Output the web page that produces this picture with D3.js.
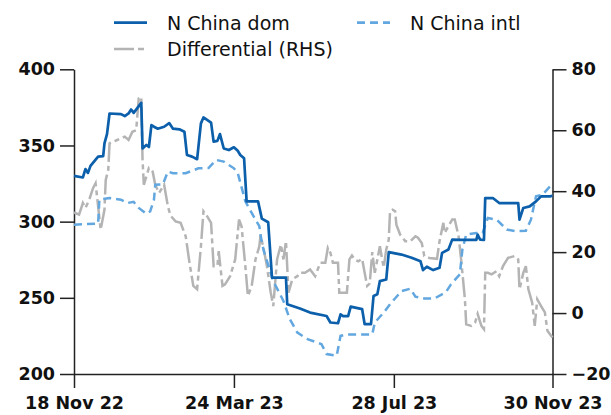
<!DOCTYPE html>
<html>
<head>
<meta charset="utf-8">
<title>N China dom vs intl</title>
<script src="https://cdn.jsdelivr.net/npm/d3@7"></script>
<style>
body { margin: 0; background: #fff; }
svg text { font-family: "DejaVu Sans", sans-serif; fill: #111; }
.axis text { font-weight: bold; font-size: 17.5px; }
.axis path, .axis line { stroke: #222; stroke-width: 1.5; }
</style>
</head>
<body>
<script>

// N China domestic price (LHS)
var chinaDom = [
 ["2022-11-18",330],["2022-11-25",329],["2022-11-27",334.5],["2022-11-29",332],["2022-12-01",336.6],
 ["2022-12-07",342.7],["2022-12-11",343],["2022-12-12",351.4],["2022-12-14",357.5],["2022-12-16",371],
 ["2022-12-25",370.6],["2022-12-28",369.3],["2022-12-31",371],["2023-01-02",373.6],["2023-01-04",371.4],
 ["2023-01-10",378],["2023-01-11",348],["2023-01-14",350.3],["2023-01-16",349],["2023-01-18",363.4],
 ["2023-01-20",362.3],["2023-01-23",361],["2023-01-28",362.3],["2023-02-01",364.7],["2023-02-04",361],
 ["2023-02-09",360.6],["2023-02-13",359],["2023-02-15",343.8],["2023-02-19",342.7],["2023-02-23",341],
 ["2023-02-26",364.5],["2023-02-28",368.4],["2023-03-06",365],["2023-03-08",352.5],["2023-03-11",353],
 ["2023-03-13",357.5],["2023-03-16",348],["2023-03-20",347],["2023-03-24",348.8],["2023-03-27",346.5],
 ["2023-03-29",343.8],["2023-04-01",341.6],["2023-04-03",313.3],["2023-04-12",313.3],["2023-04-15",302],
 ["2023-04-20",299.6],["2023-04-23",263.2],["2023-05-04",263.2],["2023-05-05",245.8],["2023-05-15",243],
 ["2023-05-23",240.3],["2023-06-05",238.1],["2023-06-08",233.8],["2023-06-14",233.3],["2023-06-16",239.2],
 ["2023-06-18",238],["2023-06-22",238],["2023-06-24",244.2],["2023-07-03",242.6],["2023-07-05",232.7],
 ["2023-07-10",232.7],["2023-07-12",251.2],["2023-07-15",252.3],["2023-07-17",261],["2023-07-22",262],
 ["2023-07-24",280],["2023-08-03",278.4],["2023-08-11",276.3],["2023-08-18",274],["2023-08-20",268.2],
 ["2023-08-23",270.4],["2023-08-28",268.2],["2023-09-02",269.7],["2023-09-04",279.5],["2023-09-09",281.7],
 ["2023-09-12",288.2],["2023-09-19",288],["2023-10-01",288],["2023-10-02",291.5],["2023-10-04",288.2],
 ["2023-10-07",288],["2023-10-08",315.5],["2023-10-14",315.5],["2023-10-19",312.2],["2023-11-03",312.2],
 ["2023-11-04",301.3],["2023-11-07",309],["2023-11-12",310],["2023-11-17",313.3],["2023-11-21",316.6],
 ["2023-11-28",316.6],["2023-11-30",317]
];

// N China international price (LHS)
var chinaIntl = [
 ["2022-11-18",298],["2022-12-07",298.7],["2022-12-08",314.4],["2022-12-16",315.5],["2022-12-25",314.4],
 ["2022-12-30",312.2],["2023-01-04",313],["2023-01-08",309],["2023-01-14",305.2],["2023-01-17",306.7],
 ["2023-01-20",314.4],["2023-01-21",324.2],["2023-01-27",324.5],["2023-01-31",332.9],["2023-02-04",331.8],
 ["2023-02-14",331.8],["2023-02-24",335],["2023-03-04",335.2],["2023-03-10",340.5],["2023-03-16",339.4],
 ["2023-03-24",335],["2023-03-27",332],["2023-04-02",313.3],["2023-04-07",305.7],["2023-04-13",297],
 ["2023-04-15",286],["2023-04-17",279.5],["2023-04-24",261],["2023-05-02",248],["2023-05-07",236],
 ["2023-05-13",227.2],["2023-05-21",222.9],["2023-06-01",219.6],["2023-06-05",213.1],["2023-06-13",212],
 ["2023-06-16",225],["2023-06-21",225.9],["2023-07-11",226],["2023-07-13",233.8],["2023-07-20",240.3],
 ["2023-07-26",246.8],["2023-08-03",254.4],["2023-08-10",256],["2023-08-14",250.8],["2023-08-21",249.5],
 ["2023-08-29",249.5],["2023-09-07",253.8],["2023-09-11",258.8],["2023-09-18",265.4],["2023-09-20",281.7],
 ["2023-09-23",291.5],["2023-10-01",292.6],["2023-10-06",292.6],["2023-10-10",302.4],["2023-10-17",301.3],
 ["2023-10-25",294.8],["2023-11-01",293.7],["2023-11-09",294],["2023-11-13",301.3],["2023-11-17",316.6],
 ["2023-11-22",317.6],["2023-11-28",323.1],["2023-11-30",325.7]
];

// Differential (RHS)
var differential = [
 ["2022-11-18",33],["2022-11-22",32.3],["2022-11-25",36.1],["2022-11-27",34.5],["2022-11-30",37.2],
 ["2022-12-03",41],["2022-12-05",42.6],["2022-12-07",35],["2022-12-09",27.4],["2022-12-12",33.9],
 ["2022-12-13",43.7],["2022-12-15",47],["2022-12-16",55.7],["2022-12-22",56.8],["2022-12-28",57.9],
 ["2022-12-31",56.8],["2023-01-03",59.5],["2023-01-06",60],["2023-01-08",70.4],["2023-01-10",71],
 ["2023-01-11",50.3],["2023-01-12",42.1],["2023-01-14",44.8],["2023-01-16",47.6],["2023-01-19",46.4],
 ["2023-01-21",42.1],["2023-01-24",39.4],["2023-01-28",42.1],["2023-01-31",35],["2023-02-02",32],
 ["2023-02-06",30.1],["2023-02-10",29.6],["2023-02-14",25.2],["2023-02-17",16.5],["2023-02-20",8.9],
 ["2023-02-23",7.8],["2023-02-26",21.9],["2023-02-28",33.4],["2023-03-03",31.7],["2023-03-06",29.6],
 ["2023-03-08",15.4],["2023-03-11",15.4],["2023-03-12",20.3],["2023-03-15",8.9],["2023-03-17",9.4],
 ["2023-03-21",12.1],["2023-03-25",17.6],["2023-03-28",30.7],["2023-03-30",28.5],["2023-04-02",15.4],
 ["2023-04-04",5.6],["2023-04-07",8.9],["2023-04-10",17.6],["2023-04-13",21.9],["2023-04-14",25.7],
 ["2023-04-17",19.8],["2023-04-19",15.4],["2023-04-22",6.7],["2023-04-24",2.3],["2023-04-27",17.6],
 ["2023-04-30",22.5],["2023-05-02",17.6],["2023-05-04",23.6],["2023-05-06",6.7],["2023-05-09",11.1],
 ["2023-05-13",12.1],["2023-05-15",13.2],["2023-05-19",13.2],["2023-05-23",14.3],["2023-05-27",12.1],
 ["2023-05-31",16.5],["2023-06-04",16.5],["2023-06-06",21.4],["2023-06-08",19.8],["2023-06-10",16.5],
 ["2023-06-14",16.5],["2023-06-15",6.7],["2023-06-21",6.7],["2023-06-23",17.6],["2023-06-25",18.9],
 ["2023-06-27",17.6],["2023-06-30",17],["2023-07-03",17.8],["2023-07-05",13.2],["2023-07-07",8.9],
 ["2023-07-09",9.7],["2023-07-11",20],["2023-07-13",13.2],["2023-07-14",15.4],["2023-07-17",21.9],
 ["2023-07-20",14.9],["2023-07-22",20.8],["2023-07-24",24.1],["2023-07-25",33.4],["2023-07-27",33.9],
 ["2023-07-29",33.4],["2023-07-30",29],["2023-08-02",25.7],["2023-08-06",23.6],["2023-08-10",23.6],
 ["2023-08-14",25.2],["2023-08-16",24.7],["2023-08-19",23],["2023-08-21",18.7],["2023-08-25",18.1],
 ["2023-08-31",17.8],["2023-09-02",23.6],["2023-09-05",29.6],["2023-09-06",26.3],["2023-09-09",28.5],
 ["2023-09-12",30.7],["2023-09-14",30.7],["2023-09-17",25.2],["2023-09-19",17.6],["2023-09-22",4.5],
 ["2023-09-23",-3.7],["2023-09-27",-4.2],["2023-09-30",-3.1],["2023-10-02",-0.3],["2023-10-05",-4.2],
 ["2023-10-07",-5.3],["2023-10-08",13.2],["2023-10-10",13.2],["2023-10-13",12.7],["2023-10-17",13.8],
 ["2023-10-19",12.1],["2023-10-22",15.4],["2023-10-26",18.1],["2023-10-31",18.7],["2023-11-03",17.6],
 ["2023-11-04",7.8],["2023-11-07",13.2],["2023-11-09",15.4],["2023-11-11",7.8],["2023-11-14",3.4],
 ["2023-11-16",-4.2],["2023-11-18",4.5],["2023-11-21",2.3],["2023-11-24",0.2],["2023-11-26",-5.8],
 ["2023-11-29",-7.5],["2023-11-30",-8]
];

var xTickDates = ["2022-11-18","2023-03-24","2023-07-28","2023-11-30"];
var leftTicks = [200,250,300,350,400];
var rightTicks = [-20,0,20,40,60,80];
var legendNames = ["N China dom","N China intl","Differential (RHS)"];

var parse = d3.timeParse("%Y-%m-%d");

var svg = d3.select("body").append("svg").attr("width",611).attr("height",415);

var x = d3.scaleTime()
	.domain([parse("2022-11-18"), parse("2023-11-30")])
	.range([74, 552.5]);
var yL = d3.scaleLinear().domain([200,400]).range([374,69.3]);
var yR = d3.scaleLinear().domain([-20,80]).range([374,69.3]);

// axes
svg.append("g").attr("class","axis")
	.attr("transform","translate(0,374)")
	.call(d3.axisBottom(x).tickValues(xTickDates.map(parse))
		.tickFormat(d3.timeFormat("%-d %b %y")).tickSize(14).tickSizeOuter(0).tickPadding(9));

svg.append("g").attr("class","axis")
	.attr("transform","translate(74,0)")
	.call(d3.axisLeft(yL).tickValues(leftTicks).tickSize(14).tickSizeOuter(0).tickPadding(5));

svg.append("g").attr("class","axis")
	.attr("transform","translate(552.5,0)")
	.call(d3.axisRight(yR).tickValues(rightTicks).tickSize(14).tickSizeOuter(0).tickPadding(5));

// lines
var lineL = d3.line().x(function(d){ return x(parse(d[0])); }).y(function(d){ return yL(d[1]); });
var lineR = d3.line().x(function(d){ return x(parse(d[0])); }).y(function(d){ return yR(d[1]); });

svg.append("path").datum(differential).attr("d", lineR)
	.attr("fill","none").attr("stroke","#b4b4b4").attr("stroke-width",2.5)
	.attr("stroke-dasharray","20,4,5,4");

svg.append("path").datum(chinaIntl).attr("d", lineL)
	.attr("fill","none").attr("stroke","#62a7df").attr("stroke-width",2.5)
	.attr("stroke-dasharray","8,5");

svg.append("path").datum(chinaDom).attr("d", lineL)
	.attr("fill","none").attr("stroke","#0b5fab").attr("stroke-width",2.7)
	.attr("stroke-linejoin","round");

// legend
var legend = [
	{name: legendNames[0], x: 114, y: 22.7, color: "#0b5fab", dash: null},
	{name: legendNames[1], x: 357, y: 22.7, color: "#62a7df", dash: "8,5"},
	{name: legendNames[2], x: 114, y: 49, color: "#b4b4b4", dash: "20,4,6,4"}
];
legend.forEach(function(l){
	svg.append("line").attr("x1", l.x).attr("x2", l.x + 33).attr("y1", l.y).attr("y2", l.y)
		.attr("stroke", l.color).attr("stroke-width", 2.7)
		.attr("stroke-dasharray", l.dash);
	svg.append("text").attr("x", l.x + 53).attr("y", l.y).attr("dy","0.36em")
		.style("font-size","19px").text(l.name);
});

</script>
</body>
</html>
